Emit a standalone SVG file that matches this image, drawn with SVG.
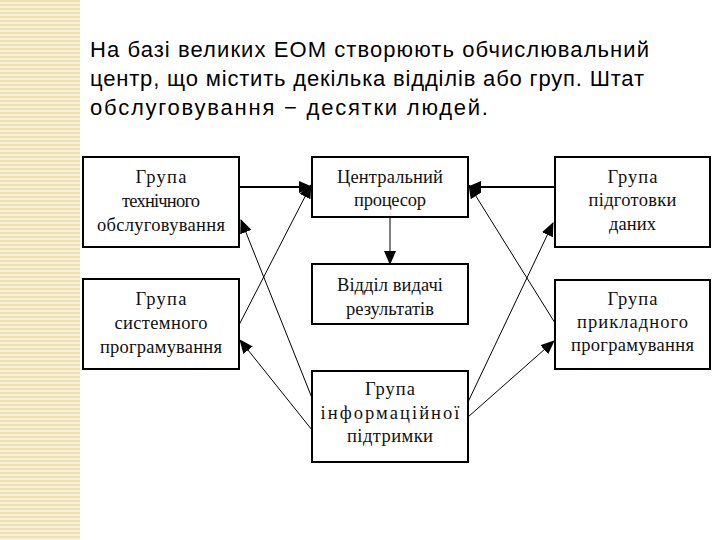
<svg xmlns="http://www.w3.org/2000/svg" width="720" height="540" viewBox="0 0 720 540">
<defs>
<pattern id="stripes" width="8" height="4" patternUnits="userSpaceOnUse">
<rect width="8" height="4" fill="#f7efd6"/>
<rect y="0" width="8" height="2" fill="#eee1b4"/>
</pattern>
<marker id="ah" markerUnits="userSpaceOnUse" markerWidth="14" markerHeight="12" refX="13" refY="6" orient="auto">
<path d="M0,0 L14,6 L0,12 Z" fill="#000"/>
</marker>
<style>
.box{fill:#fff;stroke:#000;stroke-width:2}
.t{font-family:"Liberation Serif","Times New Roman",serif;font-size:18.5px;fill:#111;text-anchor:middle}
.h{font-family:"Liberation Sans",Arial,sans-serif;font-size:22px;fill:#000}
.c{fill:none;stroke:#000;marker-end:url(#ah)}
.thick{stroke-width:2}
.thin{stroke-width:1}
</style>
</defs>
<rect width="720" height="540" fill="#fff"/>
<rect x="0" y="0" width="80" height="540" fill="url(#stripes)"/>
<g id="title">
<text class="h" x="90" y="57" textLength="559" lengthAdjust="spacing">На базі великих ЕОМ створюють обчислювальний</text>
<text class="h" x="90" y="86" textLength="554" lengthAdjust="spacing">центр, що містить декілька відділів або груп. Штат</text>
<text class="h" x="90" y="115" textLength="398" lengthAdjust="spacing">обслуговування − десятки людей.</text>
</g>
<g id="connectors">
<path class="c thick" d="M239,187 L312,187"/>
<path class="c thick" d="M555,187 L468,187"/>
<path class="c thin" d="M390,217 L390,264"/>
<path class="c thin" d="M239,325 L311,185"/>
<path class="c thin" d="M312,398 L241,220"/>
<path class="c thin" d="M312,430 L240,340"/>
<path class="c thin" d="M555,323 L469,185"/>
<path class="c thin" d="M468,402 L553,223"/>
<path class="c thin" d="M468,417 L554,341"/>
</g>
<g id="n1">
<rect class="box" x="83" y="157" width="156" height="90"/>
<text class="t" x="161" y="183" textLength="51" lengthAdjust="spacing">Група</text>
<text class="t" x="161" y="207" textLength="78" lengthAdjust="spacing">технічного</text>
<text class="t" x="161" y="231" textLength="128" lengthAdjust="spacing">обслуговування</text>
</g>
<g id="n2">
<rect class="box" x="83" y="279" width="156" height="90"/>
<text class="t" x="161" y="305" textLength="51" lengthAdjust="spacing">Група</text>
<text class="t" x="161" y="329" textLength="93" lengthAdjust="spacing">системного</text>
<text class="t" x="161" y="353" textLength="122" lengthAdjust="spacing">програмування</text>
</g>
<g id="cpu">
<rect class="box" x="312" y="157" width="156" height="60"/>
<text class="t" x="390" y="183" textLength="106" lengthAdjust="spacing">Центральний</text>
<text class="t" x="390" y="206" textLength="72" lengthAdjust="spacing">процесор</text>
</g>
<g id="out">
<rect class="box" x="312" y="264" width="156" height="60"/>
<text class="t" x="390" y="291" textLength="106" lengthAdjust="spacing">Відділ видачі</text>
<text class="t" x="390" y="315" textLength="88" lengthAdjust="spacing">результатів</text>
</g>
<g id="info">
<rect class="box" x="312" y="371" width="156" height="91"/>
<text class="t" x="390" y="395" textLength="50" lengthAdjust="spacing">Група</text>
<text class="t" x="390" y="419" textLength="139" lengthAdjust="spacing">інформаційної</text>
<text class="t" x="390" y="442" textLength="86" lengthAdjust="spacing">підтримки</text>
</g>
<g id="n4">
<rect class="box" x="555" y="157" width="155" height="90"/>
<text class="t" x="632.5" y="183" textLength="50" lengthAdjust="spacing">Група</text>
<text class="t" x="632.5" y="206" textLength="88" lengthAdjust="spacing">підготовки</text>
<text class="t" x="632.5" y="230" textLength="47" lengthAdjust="spacing">даних</text>
</g>
<g id="n5">
<rect class="box" x="555" y="280" width="155" height="89"/>
<text class="t" x="632.5" y="305" textLength="50" lengthAdjust="spacing">Група</text>
<text class="t" x="632.5" y="328" textLength="111" lengthAdjust="spacing">прикладного</text>
<text class="t" x="632.5" y="351" textLength="123" lengthAdjust="spacing">програмування</text>
</g>
</svg>
